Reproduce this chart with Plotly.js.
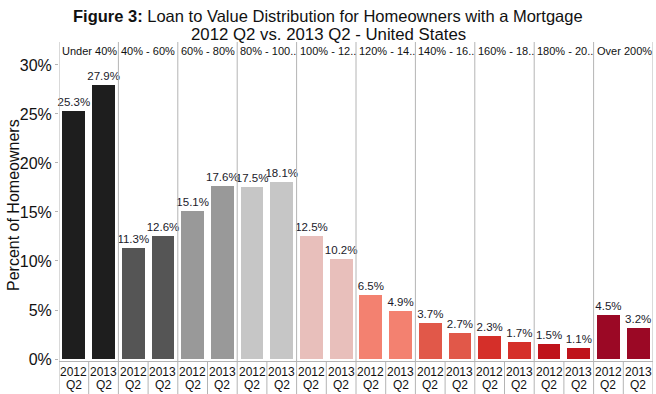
<!DOCTYPE html>
<html>
<head>
<meta charset="utf-8">
<script src="https://cdn.plot.ly/plotly-3.0.1.min.js"></script>
<style>html,body{margin:0;padding:0;background:#fff;}#chart{width:656px;height:394px;}</style>
</head>
<body>
<div id="chart"></div>
<script>
// Data
var categories = ["Under 40%", "40% - 60%", "60% - 80%", "80% - 100..", "100% - 12..", "120% - 14..", "140% - 16..", "160% - 18..", "180% - 20..", "Over 200%"];
var periodYears = ["2012", "2013"];
var periodQuarters = ["Q2", "Q2"];
var values2012 = [25.3, 11.3, 15.1, 17.5, 12.5, 6.5, 3.7, 2.3, 1.5, 4.5];
var values2013 = [27.9, 12.6, 17.6, 18.1, 10.2, 4.9, 2.7, 1.7, 1.1, 3.2];
var categoryColors = ["#1e1e1e", "#555555", "#999999", "#c6c6c6", "#e8bfbb", "#f38170", "#e15849", "#d52f29", "#bf131b", "#9b0825"];
var yTickVals = [0, 5, 10, 15, 20, 25, 30];
var yTickText = ["0%", "5%", "10%", "15%", "20%", "25%", "30%"];

var FONT = "Liberation Sans, Arial, sans-serif";
var plotTop = 60, plotBottom = 361, plotH = plotBottom - plotTop;
var plotLeft = 59, plotW = 656 - 3 - plotLeft;
function py(pix) { return (plotBottom - pix) / plotH; }
function px(pix) { return (pix - plotLeft) / plotW; }

// Build bar arrays
var xs = [], ys = [], cols = [], texts = [];
var annotations = [];
categories.forEach(function (c, i) {
  [values2012[i], values2013[i]].forEach(function (v, j) {
    var x = 2 * i + j;
    xs.push(x);
    ys.push(v);
    cols.push(categoryColors[i]);
    texts.push(v.toFixed(1) + "%");
    annotations.push({xref: "x", yref: "paper", x: x, y: py(372), yanchor: "middle", xanchor: "center",
      text: periodYears[j], showarrow: false, font: {family: FONT, size: 12, color: "#111"}});
    annotations.push({xref: "x", yref: "paper", x: x, y: py(385), yanchor: "middle", xanchor: "center",
      text: periodQuarters[j], showarrow: false, font: {family: FONT, size: 12, color: "#111"}});
  });
  annotations.push({xref: "x", yref: "paper", x: 2 * i - 0.5, y: py(51), xanchor: "left", yanchor: "middle", xshift: 1,
    text: c, showarrow: false, font: {family: FONT, size: 11, color: "#111"}});
});

annotations.push({xref: "paper", yref: "paper", x: px(328), y: py(16), xanchor: "center", yanchor: "middle",
  text: "<b>Figure 3:</b> Loan to Value Distribution for Homeowners with a Mortgage", showarrow: false,
  font: {family: FONT, size: 16.5, color: "#111"}});
annotations.push({xref: "paper", yref: "paper", x: px(328), y: py(34), xanchor: "center", yanchor: "middle",
  text: "2012 Q2 vs. 2013 Q2 - United States", showarrow: false,
  font: {family: FONT, size: 16.8, color: "#111"}});
annotations.push({xref: "paper", yref: "paper", x: px(13), y: py(205), xanchor: "center", yanchor: "middle",
  textangle: -90, text: "Percent of Homeowners", showarrow: false,
  font: {family: FONT, size: 16, color: "#111"}});

var lineCol = "#b4b4b4";
var bottomY = py(394);
var topY = py(42);
var shapes = [];
for (var k = 0; k <= categories.length; k++) {
  shapes.push({type: "line", xref: "x", yref: "paper", x0: 2 * k - 0.5, x1: 2 * k - 0.5, y0: bottomY, y1: topY, line: {color: lineCol, width: 1}});
}
for (var k2 = 0; k2 < categories.length; k2++) {
  shapes.push({type: "line", xref: "x", yref: "paper", x0: 2 * k2 + 0.5, x1: 2 * k2 + 0.5, y0: bottomY, y1: 0, line: {color: lineCol, width: 1}});
}

var trace = {
  type: "bar", x: xs, y: ys, marker: {color: cols, line: {width: 0}},
  width: 0.77, text: texts, textposition: "outside", constraintext: "none", cliponaxis: false,
  textfont: {family: FONT, size: 11.5, color: "#1a1a2a"},
  hoverinfo: "none"
};

var layout = {
  width: 656, height: 394,
  margin: {l: plotLeft, r: 3, t: plotTop, b: 394 - plotBottom},
  paper_bgcolor: "#fff", plot_bgcolor: "#fff",
  showlegend: false,
  font: {family: FONT, color: "#111"},
  xaxis: {range: [-0.5, 19.5], showticklabels: false, showgrid: false, zeroline: false,
    showline: true, linecolor: lineCol, linewidth: 1, ticks: "", fixedrange: true},
  yaxis: {range: [-0.2, 30.5], tickvals: yTickVals, ticktext: yTickText, showgrid: false, zeroline: false,
    showline: false, ticks: "outside", ticklen: 3, tickcolor: lineCol,
    tickfont: {size: 16, color: "#111"}, fixedrange: true},
  bargap: 0,
  shapes: shapes,
  annotations: annotations
};

Plotly.newPlot("chart", [trace], layout, {displayModeBar: false, staticPlot: true});
</script>
</body>
</html>
